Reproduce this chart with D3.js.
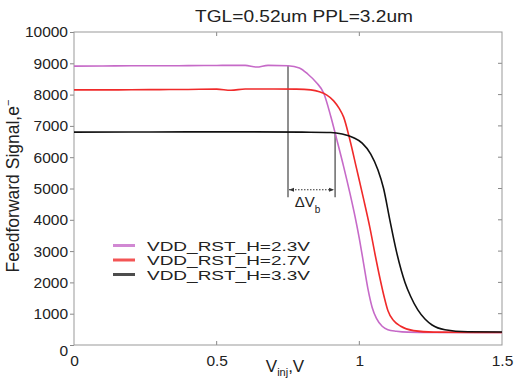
<!DOCTYPE html>
<html>
<head>
<meta charset="utf-8">
<script src="https://cdn.jsdelivr.net/npm/d3@7"></script>
<style>
  body { margin: 0; background: white; }
  text { font-family: "Liberation Sans", Arial, Helvetica, sans-serif; fill: #222; }
</style>
</head>
<body>
<div id="chart"></div>
<script>
var svgWidth = 514;
var svgHeight = 383;

var margin = { top: 32, right: 12, bottom: 38, left: 74 };
var width = svgWidth - margin.left - margin.right;
var height = svgHeight - margin.top - margin.bottom;

// data
var seriesNames = ["VDD_RST_H=2.3V", "VDD_RST_H=2.7V", "VDD_RST_H=3.3V"];
var seriesColors = ["#c66ac8", "#f02a2a", "#111111"];

var vinj23 = [0, 0.1, 0.2, 0.3, 0.4, 0.5, 0.55, 0.6, 0.64, 0.68, 0.75, 0.79, 0.82, 0.85, 0.875, 0.9, 0.92, 0.945, 0.967, 0.985, 1.0, 1.015, 1.03, 1.045, 1.06, 1.08, 1.1, 1.13, 1.17, 1.25, 1.5];
var sig23 = [8910, 8915, 8920, 8920, 8925, 8930, 8935, 8935, 8880, 8935, 8920, 8850, 8650, 8380, 8050, 7300, 6600, 5700, 4850, 4100, 3400, 2600, 1800, 1200, 850, 600, 490, 440, 410, 400, 400];

var vinj27 = [0, 0.1, 0.2, 0.3, 0.4, 0.5, 0.55, 0.6, 0.7, 0.78, 0.83, 0.86, 0.885, 0.91, 0.93, 0.945, 0.967, 0.99, 1.014, 1.037, 1.055, 1.073, 1.088, 1.1, 1.12, 1.145, 1.19, 1.26, 1.5];
var sig27 = [8150, 8150, 8155, 8160, 8165, 8175, 8140, 8180, 8180, 8175, 8150, 8090, 7990, 7800, 7550, 7280, 6550, 5650, 4700, 3750, 2900, 2100, 1500, 1100, 780, 600, 460, 410, 400];

var vinj33 = [0, 0.2, 0.4, 0.6, 0.8, 0.9, 0.94, 0.98, 1.01, 1.04, 1.065, 1.085, 1.107, 1.13, 1.16, 1.18, 1.205, 1.23, 1.255, 1.3, 1.38, 1.5];
var sig33 = [6800, 6805, 6810, 6810, 6800, 6790, 6740, 6620, 6450, 6100, 5600, 5000, 3990, 2990, 2000, 1550, 1120, 830, 640, 490, 425, 415];

var xTicks = [0, 0.5, 1, 1.5];
var yTicks = [0, 1000, 2000, 3000, 4000, 5000, 6000, 7000, 8000, 9000, 10000];

// delta Vb annotation: marker voltages, their top signals, bottom and arrow level
var markerV = [0.75, 0.915];
var markerTop = [8920, 6790];
var markerBottom = 4720;
var arrowLevel = 4960;

var svg = d3.select("#chart")
  .append("svg")
  .attr("width", svgWidth)
  .attr("height", svgHeight);

svg.append("rect")
  .attr("width", svgWidth)
  .attr("height", svgHeight)
  .attr("fill", "white");

var chartGroup = svg.append("g")
  .attr("transform", `translate(${margin.left}, ${margin.top})`);

var xScale = d3.scaleLinear().domain([0, 1.5]).range([0, width]);
var yScale = d3.scaleLinear().domain([0, 10000]).range([height, 0]);

// axes
var bottomAxis = d3.axisBottom(xScale).tickValues(xTicks).tickSize(0).tickPadding(10)
  .tickFormat(d => d === 0 ? "0" : d3.format("")(d));
var leftAxis = d3.axisLeft(yScale).tickValues(yTicks).tickSize(4).tickPadding(2)
  .tickFormat(d3.format("d"));

var xAxisG = chartGroup.append("g")
  .attr("transform", `translate(0, ${height})`)
  .call(bottomAxis);
var yAxisG = chartGroup.append("g").call(leftAxis);

[xAxisG, yAxisG].forEach(function(g) {
  g.select(".domain").remove();
  g.selectAll("line").attr("stroke", "#888");
  g.selectAll("text")
    .attr("font-size", "15.5px")
    .attr("font-family", "Liberation Sans, Arial, sans-serif")
    .attr("fill", "#222");
});
yAxisG.selectAll(".tick text").filter(d => d === 0).attr("dy", "0.7em");

// inner ticks on all four sides
var innerX = xTicks.slice(1, -1);
var innerY = yTicks.slice(1, -1);
chartGroup.selectAll(".tb").data(innerX).enter().append("line")
  .attr("x1", d => xScale(d)).attr("x2", d => xScale(d))
  .attr("y1", height).attr("y2", height - 4)
  .attr("stroke", "#888");
chartGroup.selectAll(".tt").data(innerX).enter().append("line")
  .attr("x1", d => xScale(d)).attr("x2", d => xScale(d))
  .attr("y1", 0).attr("y2", 4)
  .attr("stroke", "#888");
chartGroup.selectAll(".tr").data(innerY).enter().append("line")
  .attr("x1", width).attr("x2", width - 4)
  .attr("y1", d => yScale(d)).attr("y2", d => yScale(d))
  .attr("stroke", "#888");

// frame
chartGroup.append("rect")
  .attr("x", 0).attr("y", 0)
  .attr("width", width).attr("height", height)
  .attr("fill", "none")
  .attr("stroke", "#999")
  .attr("stroke-width", 1);

// curves
var allSeries = [
  d3.zip(vinj23, sig23),
  d3.zip(vinj27, sig27),
  d3.zip(vinj33, sig33)
];

var line = d3.line()
  .x(d => xScale(d[0]))
  .y(d => yScale(d[1]))
  .curve(d3.curveMonotoneX);

// markers for delta Vb
chartGroup.selectAll(".marker").data(markerV).enter().append("line")
  .attr("x1", d => xScale(d)).attr("x2", d => xScale(d))
  .attr("y1", (d, i) => yScale(markerTop[i]))
  .attr("y2", yScale(markerBottom))
  .attr("stroke", "#333")
  .attr("stroke-width", 1.1);

var defs = svg.append("defs");
defs.append("marker")
  .attr("id", "arr")
  .attr("viewBox", "0 0 10 10")
  .attr("refX", 10).attr("refY", 5)
  .attr("markerWidth", 5).attr("markerHeight", 5)
  .attr("orient", "auto-start-reverse")
  .append("path")
  .attr("d", "M0,1 L10,5 L0,9 Z")
  .attr("fill", "#333");

chartGroup.append("line")
  .attr("x1", xScale(markerV[0]) + 1).attr("x2", xScale(markerV[1]) - 1)
  .attr("y1", yScale(arrowLevel)).attr("y2", yScale(arrowLevel))
  .attr("stroke", "#333")
  .attr("stroke-width", 1)
  .attr("stroke-dasharray", "1.5,1.5")
  .attr("marker-start", "url(#arr)")
  .attr("marker-end", "url(#arr)");

var dv = chartGroup.append("text")
  .attr("x", (xScale(markerV[0]) + xScale(markerV[1])) / 2 - 4)
  .attr("y", yScale(arrowLevel) + 17)
  .attr("text-anchor", "middle")
  .attr("font-size", "15px");
dv.append("tspan").text("\u0394V");
dv.append("tspan").attr("font-size", "10px").attr("dy", "6").text("b");

chartGroup.selectAll(".series").data(allSeries).enter().append("path")
  .attr("d", line)
  .attr("fill", "none")
  .attr("stroke", (d, i) => seriesColors[i])
  .attr("stroke-width", 1.6);

// legend
var legendY = [245.5, 260, 274.5];
var legend = svg.append("g");
seriesNames.forEach(function(name, i) {
  legend.append("line")
    .attr("x1", 113).attr("x2", 135)
    .attr("y1", legendY[i]).attr("y2", legendY[i])
    .attr("stroke", seriesColors[i])
    .attr("stroke-opacity", i === 2 ? 0.75 : 0.8)
    .attr("stroke-width", 3);
  legend.append("text")
    .attr("x", 147)
    .attr("y", legendY[i] + 5)
    .attr("font-size", "13.5px")
    .attr("textLength", 163)
    .attr("lengthAdjust", "spacingAndGlyphs")
    .text(name);
});

// title
svg.append("text")
  .attr("x", 304)
  .attr("y", 22)
  .attr("text-anchor", "middle")
  .attr("font-size", "16px")
  .attr("textLength", 218)
  .attr("lengthAdjust", "spacingAndGlyphs")
  .text("TGL=0.52um PPL=3.2um");

// x axis title
var xt = svg.append("text")
  .attr("x", 285)
  .attr("y", 372)
  .attr("text-anchor", "middle")
  .attr("font-size", "17px");
xt.append("tspan").text("V");
xt.append("tspan").attr("font-size", "11px").attr("dy", "4").text("inj");
xt.append("tspan").attr("dy", "-4").text(",V");

// y axis title
var yt = svg.append("text")
  .attr("transform", "rotate(-90)")
  .attr("x", -186)
  .attr("y", 19)
  .attr("text-anchor", "middle")
  .attr("font-size", "17.5px");
yt.append("tspan").text("Feedforward Signal,e");
yt.append("tspan").attr("font-size", "11px").attr("dy", "-7").text("\u2212");
</script>
</body>
</html>
